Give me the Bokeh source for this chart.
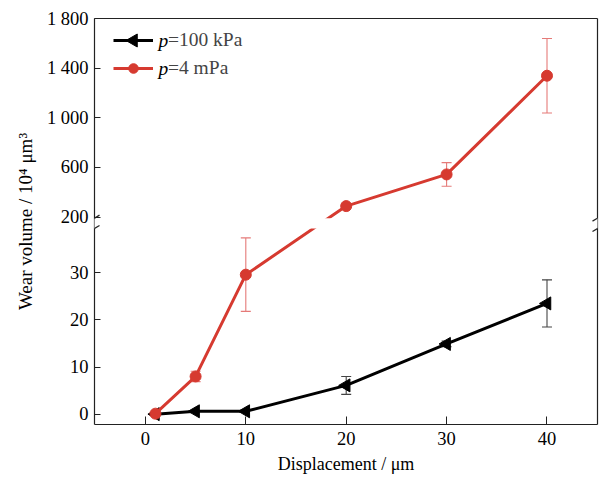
import math
from bokeh.plotting import figure
from bokeh.models import (ColumnDataSource, Range1d, LinearAxis, FixedTicker, Whisker,
                          TeeHead, BoxAnnotation, Arrow, Legend, LegendItem, Label)
from bokeh.embed import file_html
from bokeh.resources import INLINE

# ---------------- data ----------------
displacement = [1, 5, 10, 20, 30, 40]
wear_100kpa = [0.0, 0.6, 0.6, 6.1, 14.9, 23.5]
err_100kpa = [0, 0, 0, 1.9, 0.6, 5.0]
wear_4mpa = [0.1, 8.0, 29.6, 289, 544, 1339]
err_4mpa = [0, 1.1, 7.8, 0, 95, 300]
lower_ticks = [0, 10, 20, 30]
lower_tick_labels = ["0", "10", "20", "30"]
upper_ticks = [200, 600, 1000, 1400, 1800]
upper_tick_labels = ["200", "600", "1 000", "1 400", "1 800"]
x_ticks = [0, 10, 20, 30, 40]
series_symbol = "p"
series_labels = ["=100 kPa", "=4 mPa"]

# ---------------- broken-axis mapping ----------------
LOW_MAX = 39.4      # top of the lower segment (value units)
GAP = 2.2           # size of the break (lower-segment units)
UP_MIN = 192        # value at bottom of the upper segment
UP_SCALE = 0.02635  # lower units per upper unit


def to_disp(v):
    if v <= LOW_MAX:
        return v
    return LOW_MAX + GAP + (v - UP_MIN) * UP_SCALE


X0, X1 = -5.07, 45.03
Y0, Y1 = -2.2, to_disp(1800)

W, H = 601, 486
BL, BR, BT, BB = 94, 4, 18, 62
FW, FH = W - BL - BR, H - BT - BB
PX_X = FW / (X1 - X0)
PX_Y = FH / (Y1 - Y0)

FONT = "Liberation Serif"
RED = "#d63a30"
AXC = "#222222"

p = figure(width=W, height=H, output_backend="svg", toolbar_location=None,
           x_range=Range1d(X0, X1), y_range=Range1d(Y0, Y1),
           min_border_left=BL, min_border_right=BR, min_border_top=BT, min_border_bottom=BB,
           x_axis_label="Displacement / μm", y_axis_label="Wear volume / 10⁴ μm³")
p.grid.visible = False
p.outline_line_color = None
p.background_fill_color = "white"
p.border_fill_color = "white"

xax = p.xaxis[0]
yax = p.yaxis[0]
xax.ticker = FixedTicker(ticks=x_ticks)
yt = [to_disp(t) for t in lower_ticks + upper_ticks]
yax.ticker = FixedTicker(ticks=yt)
yax.major_label_overrides = {to_disp(t): s for t, s in
                             zip(lower_ticks + upper_ticks, lower_tick_labels + upper_tick_labels)}
for ax, tin in ((xax, 8), (yax, 6)):
    ax.major_tick_in = tin
    ax.major_tick_out = 0
    ax.minor_tick_line_color = None
    ax.major_tick_line_color = AXC
    ax.axis_line_color = AXC
    ax.axis_line_width = 1.2
    ax.major_label_text_font = FONT
    ax.major_label_text_font_size = "18.5px"
    ax.major_label_text_color = "black"
    ax.axis_label_text_font = FONT
    ax.axis_label_text_font_style = "normal"
    ax.axis_label_text_color = "black"
xax.axis_label_text_font_size = "18px"
yax.axis_label_text_font_size = "19px"
xax.major_label_standoff = 7
xax.axis_label_standoff = 6
yax.major_label_standoff = 6
yax.axis_label_standoff = 8

for side in ("right", "above"):
    ax = LinearAxis(ticker=FixedTicker(ticks=[]), major_label_text_font_size="0px",
                    major_tick_in=0, major_tick_out=0, major_label_standoff=0,
                    minor_tick_line_color=None, axis_line_color=AXC, axis_line_width=1.2)
    p.add_layout(ax, side)

# ---------------- error bars ----------------
def whisker_source(xs, ys, es):
    idx = [i for i, e in enumerate(es) if e > 0]
    return ColumnDataSource(dict(
        base=[xs[i] for i in idx],
        upper=[to_disp(ys[i] + es[i]) for i in idx],
        lower=[to_disp(ys[i] - es[i]) for i in idx]))


def make_whisker(src, color):
    return Whisker(source=src, base="base", upper="upper", lower="lower", dimension="height",
                   line_color=color, line_width=1.1,
                   upper_head=TeeHead(size=10, line_color=color, line_width=1.1),
                   lower_head=TeeHead(size=10, line_color=color, line_width=1.1))


p.add_layout(make_whisker(whisker_source(displacement, wear_4mpa, err_4mpa), "#e57a78"))
p.add_layout(make_whisker(whisker_source(displacement, wear_100kpa, err_100kpa), "#444444"))

# ---------------- series ----------------
src_b = ColumnDataSource(dict(x=displacement, y=[to_disp(v) for v in wear_100kpa]))
src_r = ColumnDataSource(dict(x=displacement, y=[to_disp(v) for v in wear_4mpa]))

TRI = dict(marker="triangle", size=13, angle=math.pi / 2, fill_color="black", line_color="black")
lb = p.line("x", "y", source=src_b, line_color="black", line_width=3)
mb = p.scatter("x", "y", source=src_b, **TRI)
lr = p.line("x", "y", source=src_r, line_color=RED, line_width=3)
mr = p.scatter("x", "y", source=src_r, marker="circle", size=11,
               fill_color=RED, line_color=RED)

# ---------------- break ----------------
band = BoxAnnotation(left=X0 - 4 / PX_X, right=X1 + 5 / PX_X, bottom=LOW_MAX, top=LOW_MAX + GAP,
                     fill_color="white", fill_alpha=1.0, line_color=None, level="overlay")
p.add_layout(band)
dx, dy = 5 / PX_X, 3 / PX_Y
bx, by = [], []
for xe in (X0, X1):
    for ye in (LOW_MAX, LOW_MAX + GAP):
        bx.append(xe)
        by.append(ye)
marks = ColumnDataSource(dict(x0=[x - dx for x in bx], y0=[y - dy for y in by],
                              x1=[x + dx for x in bx], y1=[y + dy for y in by]))
p.add_layout(Arrow(source=marks, x_start="x0", y_start="y0", x_end="x1", y_end="y1",
                   start=None, end=None, line_color=AXC, line_width=1.2, level="overlay"))

# ---------------- legend ----------------
LEG_X, LEG_TOP, ROW_H, ROW_GAP, GLYPH_W, STANDOFF, P_W = 19, 10, 24, 4, 40, 5, 10
LEG_FONT = "19.5px"
leg_h = 2 * ROW_H + ROW_GAP
legend = Legend(items=[LegendItem(label=series_labels[0], renderers=[lb]),
                       LegendItem(label=series_labels[1], renderers=[lr, mr])],
                location=(LEG_X, FH - LEG_TOP - leg_h), padding=0, margin=0, spacing=ROW_GAP,
                glyph_width=GLYPH_W, glyph_height=ROW_H, label_height=ROW_H,
                label_standoff=STANDOFF + P_W,
                label_text_font=FONT, label_text_font_size=LEG_FONT,
                border_line_color=None, background_fill_alpha=0)
p.add_layout(legend)
row_y = [Y1 - (LEG_TOP + ROW_H / 2 + i * (ROW_H + ROW_GAP)) / PX_Y for i in range(2)]
# left-pointing marker for the first legend entry (legend glyphs are drawn unrotated)
p.scatter(x=[X0 + (LEG_X + GLYPH_W / 2) / PX_X], y=[row_y[0]], **TRI)
for i in range(2):
    p.add_layout(Label(x=X0 + (LEG_X + GLYPH_W + STANDOFF) / PX_X, y=row_y[i],
                       text=series_symbol, text_font=FONT, text_font_style="italic",
                       text_font_size=LEG_FONT, text_baseline="middle", text_align="left",
                       text_color="black"))

open("out.html", "w").write(file_html(p, INLINE))
